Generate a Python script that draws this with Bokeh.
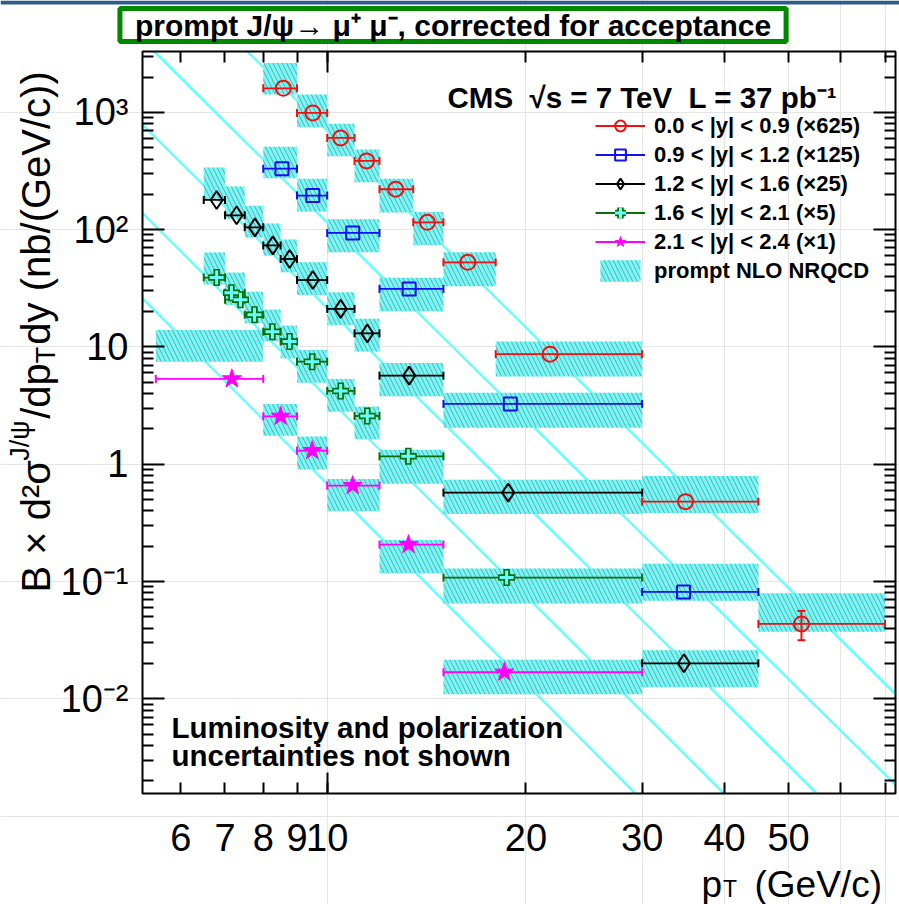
import math
from bokeh.plotting import figure
from bokeh.models import (FixedTicker, LogAxis, Label, Legend, LegendItem,
                          Range1d, NumeralTickFormatter, BoxAnnotation)
from bokeh.embed import file_html
from bokeh.resources import INLINE

# ---------------------------------------------------------------------------
# Prompt J/psi -> mu mu cross sections, B x d2sigma/dpT dy (nb/(GeV/c)),
# scaled per rapidity range.  *_lo/*_hi: pT bin edges, *_pt: bin-centre pT,
# *_xs: measured value, *_th_lo/*_th_hi: prompt NLO NRQCD band.
# ---------------------------------------------------------------------------
y09_lo = [8, 9, 10, 11, 12, 13.5, 15, 18, 30, 45]
y09_hi = [9, 10, 11, 12, 13.5, 15, 18, 30, 45, 70]
y09_pt = [8.58, 9.51, 10.48, 11.47, 12.70, 14.18, 16.33, 21.76, 34.9, 52.3]
y09_xs = [1602, 988, 605, 385, 221, 115.4, 52.6, 8.68, 0.48, 0.0435]
y09_th_lo = [1416, 745, 422, 253, 140, 74, 32.9, 5.6, 0.384, 0.0373]
y09_th_hi = [2637, 1416, 801, 481, 272, 141.6, 64, 11.1, 0.795, 0.0795]
# vertical error bar that is larger than its marker
y09_err_pt = [52.3]
y09_err_lo = [0.0316]
y09_err_hi = [0.0562]

y12_lo = [8, 9, 10, 12, 15, 30]
y12_hi = [9, 10, 12, 15, 30, 45]
y12_pt = [8.54, 9.51, 10.93, 13.31, 18.94, 34.66]
y12_xs = [331, 195, 93.8, 31.2, 3.27, 0.0815]
y12_th_lo = [274, 143, 64, 20.1, 2.05, 0.0687]
y12_th_hi = [510, 272, 122.5, 38.9, 4.06, 0.1415]

y16_lo = [6.5, 7, 7.5, 8, 8.5, 9, 10, 11, 12, 15, 30]
y16_hi = [7, 7.5, 8, 8.5, 9, 10, 11, 12, 15, 30, 45]
y16_pt = [6.80, 7.29, 7.77, 8.27, 8.77, 9.51, 10.48, 11.50, 13.31, 18.8, 34.7]
y16_xs = [179, 132.5, 104.6, 73.4, 56.2, 37.2, 21.1, 13.06, 5.69, 0.573, 0.0201]
y16_th_lo = [180, 124, 85.5, 60, 43.3, 27.7, 15.4, 9.12, 3.79, 0.376, 0.01253]
y16_th_hi = [338, 233, 160, 113, 82.2, 52.6, 29.2, 17.4, 7.3, 0.739, 0.0259]

y21_lo = [6.5, 7, 7, 7.5, 8, 8.5, 9, 10, 11, 12, 15]
y21_hi = [7, 7.5, 7.5, 8, 8.5, 9, 10, 11, 12, 15, 30]
y21_pt = [6.80, 7.16, 7.39, 7.76, 8.26, 8.77, 9.49, 10.48, 11.5, 13.27, 18.7]
y21_xs = [39.0, 29.0, 25.3, 18.8, 13.5, 11.1, 7.49, 4.22, 2.58, 1.168, 0.108]
y21_th_lo = [34, 22.9, 22.9, 15.9, 11.2, 8.0, 4.96, 2.81, 1.63, 0.683, 0.0649]
y21_th_hi = [63.7, 43, 43, 29.6, 20.8, 15.2, 9.43, 5.34, 3.1, 1.332, 0.129]

y24_lo = [5.5, 8, 9, 10, 12, 15]
y24_hi = [8, 9, 10, 12, 15, 30]
y24_pt = [7.17, 8.50, 9.49, 10.93, 13.28, 18.55]
y24_xs = [5.34, 2.56, 1.306, 0.657, 0.2064, 0.01686]
y24_th_lo = [7.49, 1.75, 0.90, 0.397, 0.1174, 0.01094]
y24_th_hi = [13.96, 3.27, 1.72, 0.749, 0.2263, 0.02153]

# straight power-law guide lines (cyan): where each one enters and leaves the frame
trend_y09_pt, trend_y09 = [7.57, 72.6], [3300, 0.0110]
trend_y12_pt, trend_y12 = [5.47, 72.6], [3300, 0.00185]
trend_y16_pt, trend_y16 = [5.25, 55.2], [785, 0.00156]
trend_y21_pt, trend_y21 = [5.25, 39.9], [139, 0.00156]
trend_y24_pt, trend_y24 = [5.25, 29.3], [26.0, 0.00156]

legend_labels = ["0.0 < |y| < 0.9 (\u00d7625)",
                 "0.9 < |y| < 1.2 (\u00d7125)",
                 "1.2 < |y| < 1.6 (\u00d725)",
                 "1.6 < |y| < 2.1 (\u00d75)",
                 "2.1 < |y| < 2.4 (\u00d71)",
                 "prompt NLO NRQCD"]

x_ticks = [6, 7, 8, 9, 10, 20, 30, 40, 50]
x_minor = [60, 70]
y_ticks = [1e-2, 1e-1, 1.0, 10.0, 100.0, 1000.0]
y_tick_text = ["10\u207b\u00b2", "10\u207b\u00b9", "1", "10", "10\u00b2", "10\u00b3"]

# ---------------------------------------------------------------------------
# Page geometry.  The plot box sits at FL..FR x FT..FB on the page; the Bokeh
# frame covers the whole canvas so that texts around the box are not clipped,
# and the axes are pinned to the box edges with fixed_location.
W, H = 899, 904
FL, FR, FT, FB = 142, 895, 51, 793
X_MIN, X_MAX = 5.25, 72.6
Y_MIN, Y_MAX = 1.56e-3, 3.3e3
KX = math.log10(X_MAX / X_MIN) / (FR - FL)     # decades per pixel
KY = math.log10(Y_MAX / Y_MIN) / (FB - FT)
CX0, CX1 = X_MIN / 10 ** (FL * KX), X_MAX * 10 ** ((W - FR) * KX)
CY0, CY1 = Y_MIN / 10 ** ((H - FB) * KY), Y_MAX * 10 ** (FT * KY)

FONT = "Liberation Sans"
CYAN = "#66ffff"

p = figure(width=W, height=H, x_axis_type="log", y_axis_type="log",
           x_axis_location=None, y_axis_location=None,
           x_range=Range1d(CX0, CX1), y_range=Range1d(CY0, CY1),
           output_backend="svg", toolbar_location=None, min_border=0)
p.outline_line_color = None
p.background_fill_color = "white"
p.border_fill_color = "white"

xticker = FixedTicker(ticks=x_ticks, minor_ticks=x_minor)
y_minor = [m * 10.0 ** k for k in range(-3, 4) for m in range(2, 10)
           if Y_MIN < m * 10.0 ** k < Y_MAX]
yticker = FixedTicker(ticks=y_ticks, minor_ticks=y_minor)


def box_axis(ticker, loc, major_in, minor_in, overrides=None, standoff=0):
    ax = LogAxis(ticker=ticker, fixed_location=loc)
    ax.axis_line_color = None
    ax.major_tick_in = major_in
    ax.major_tick_out = 0
    ax.minor_tick_in = minor_in
    ax.minor_tick_out = 0
    ax.major_tick_line_width = 2
    ax.minor_tick_line_width = 2
    ax.major_tick_line_color = "black"
    ax.minor_tick_line_color = "black"
    ax.major_label_text_font = FONT
    ax.major_label_text_font_size = "38px"
    ax.major_label_text_color = "black"
    ax.major_label_standoff = standoff
    if overrides is not None:
        ax.major_label_overrides = overrides
    return ax


xa = box_axis(xticker, Y_MIN, 11, 11, standoff=30)
xa.formatter = NumeralTickFormatter(format="0")
p.add_layout(xa, "below")
ya = box_axis(yticker, X_MIN, 22, 11, dict(zip(y_ticks, y_tick_text)), standoff=14)
p.add_layout(ya, "left")
# mirrored tick marks on the top and right edges, no numbers there
p.add_layout(box_axis(xticker, Y_MAX, 11, 11, {t: "" for t in x_ticks}), "above")
p.add_layout(box_axis(yticker, X_MAX, 22, 11, {t: "" for t in y_ticks}), "right")
# the 10 GeV/c tick is the long one on the horizontal edges
ten = FixedTicker(ticks=[10], minor_ticks=[])
p.add_layout(box_axis(ten, Y_MIN, 21, 0, {10: ""}), "below")
p.add_layout(box_axis(ten, Y_MAX, 21, 0, {10: ""}), "above")

# guide lines
for tx, ty in ((trend_y09_pt, trend_y09), (trend_y12_pt, trend_y12),
               (trend_y16_pt, trend_y16), (trend_y21_pt, trend_y21),
               (trend_y24_pt, trend_y24)):
    p.line(tx, ty, line_color=CYAN, line_width=2.5)

series = [
    dict(lo=y09_lo, hi=y09_hi, pt=y09_pt, xs=y09_xs, tlo=y09_th_lo, thi=y09_th_hi,
         color="#ee1111", marker="circle", size=15),
    dict(lo=y12_lo, hi=y12_hi, pt=y12_pt, xs=y12_xs, tlo=y12_th_lo, thi=y12_th_hi,
         color="#1111ee", marker="square", size=13),
    dict(lo=y16_lo, hi=y16_hi, pt=y16_pt, xs=y16_xs, tlo=y16_th_lo, thi=y16_th_hi,
         color="#000000", marker="diamond", size=18),
    dict(lo=y21_lo, hi=y21_hi, pt=y21_pt, xs=y21_xs, tlo=y21_th_lo, thi=y21_th_hi,
         color="#0a6e0a", marker="cross", size=17),
    dict(lo=y24_lo, hi=y24_hi, pt=y24_pt, xs=y24_xs, tlo=y24_th_lo, thi=y24_th_hi,
         color="#ff00ff", marker="star", size=20),
]

# theory bands
band_renderers = []
for s in series:
    r = p.quad(left=s["lo"], right=s["hi"], bottom=s["tlo"], top=s["thi"],
               fill_color=CYAN, line_color=None,
               hatch_pattern="left_diagonal_line", hatch_color="#a07c7c",
               hatch_weight=1, hatch_scale=9, hatch_alpha=0.85)
    band_renderers.append(r)

# data points with horizontal bin-width bars
legend_renderers = []
for s in series:
    c = s["color"]
    seg = p.segment(x0=s["lo"], x1=s["hi"], y0=s["xs"], y1=s["xs"],
                    line_color=c, line_width=1.8)
    p.scatter(x=s["lo"] + s["hi"], y=s["xs"] + s["xs"], marker="dash",
              angle=math.pi / 2, size=8, line_color=c, line_width=2)
    if s["marker"] == "cross":
        m1 = p.scatter(x=s["pt"], y=s["xs"], marker="cross", size=s["size"],
                       line_color=c, line_width=6.5)
        m2 = p.scatter(x=s["pt"], y=s["xs"], marker="cross", size=s["size"] - 3,
                       line_color=CYAN, line_width=3)
        legend_renderers.append([seg, m1, m2])
    elif s["marker"] == "star":
        m1 = p.scatter(x=s["pt"], y=s["xs"], marker="star", size=s["size"],
                       line_color=c, fill_color=c, line_width=1)
        legend_renderers.append([seg, m1])
    else:
        m1 = p.scatter(x=s["pt"], y=s["xs"], marker=s["marker"], size=s["size"],
                       line_color=c, fill_color=None, line_width=2)
        legend_renderers.append([seg, m1])

# vertical error bar of the last |y|<0.9 point
p.segment(x0=y09_err_pt, x1=y09_err_pt, y0=y09_err_lo, y1=y09_err_hi,
          line_color="#ee1111", line_width=2)
p.scatter(x=y09_err_pt + y09_err_pt, y=y09_err_lo + y09_err_hi, marker="dash",
          size=8, line_color="#ee1111", line_width=2)

# plot box
p.quad(left=[X_MIN], right=[X_MAX], bottom=[Y_MIN], top=[Y_MAX],
       fill_color=None, line_color="black", line_width=2)

items = [LegendItem(label=t, renderers=r) for t, r in zip(legend_labels[:5], legend_renderers)]
items.append(LegendItem(label=legend_labels[5], renderers=[band_renderers[0]]))
legend = Legend(items=items, location=(595, 620),
                label_text_font=FONT, label_text_font_style="bold",
                label_text_font_size="22px", label_text_color="black",
                glyph_width=50, glyph_height=27, label_height=27,
                spacing=2, padding=0, margin=0, label_standoff=9,
                border_line_color=None, background_fill_alpha=0)
p.add_layout(legend)


# ---------------------------------------------------------------------------
# page texts, positioned in page pixels (origin top-left)
def page_label(text, px, py, size, bold=False, align="left",
               baseline="alphabetic", angle=0.0, **kw):
    return Label(x=px, y=H - py, x_units="screen", y_units="screen",
                 text=text, text_font=FONT, text_font_size=f"{size}px",
                 text_font_style="bold" if bold else "normal",
                 text_color="black", text_align=align, text_baseline=baseline,
                 angle=angle, **kw)


# Liberation Sans advance widths (em) for the characters used in the titles
CW = {"B": .667, " ": .278, "\u00d7": .584, "d": .556, "\u00b2": .333, "\u03c3": .6,
      "J": .5, "/": .278, "\u03c8": .7, "p": .556, "T": .611, "y": .5, "(": .333,
      "n": .556, "b": .556, "G": .778, "e": .556, "V": .667, "c": .5, ")": .333}


def tw(s, size):
    return sum(CW.get(ch, .556) for ch in s) * size


# header band
p.add_layout(BoxAnnotation(left=0, right=W, bottom=H - 4, top=H,
                           left_units="screen", right_units="screen",
                           bottom_units="screen", top_units="screen",
                           fill_color="#2b5d8c", fill_alpha=1, line_color=None))

# boxed title (en spaces widen the frame around the text)
title_txt = "\u2002prompt J/\u03c8\u2192 \u03bc\u207a \u03bc\u207b, corrected for acceptance\u2002"
p.add_layout(page_label(title_txt, 456, 28, 30, bold=True, align="center",
                        baseline="middle", text_alpha=0,
                        background_fill_color="#a0a0a0", padding=0))
p.add_layout(page_label(title_txt, 452.5, 24.5, 30, bold=True, align="center",
                        baseline="middle", background_fill_color="white",
                        border_line_color="#008800", border_line_width=5,
                        padding=0))

# experiment tag
p.add_layout(page_label("CMS\u00a0\u00a0\u221as = 7 TeV\u00a0\u00a0L = 37 pb\u207b\u00b9",
                        447, 97, 29.5, bold=True))

# note in the lower left
p.add_layout(page_label("Luminosity and polarization", 171, 727, 29.5, bold=True))
p.add_layout(page_label("uncertainties not shown", 171, 755, 29.5, bold=True))

# x-axis title: p_T (GeV/c), right-aligned to the box
XT = 37
p.add_layout(page_label("p", 701, 884, XT))
p.add_layout(page_label("T", 701 + tw("p", XT) + 1, 888, 23))
p.add_layout(page_label("(GeV/c)", 754, 884, XT))

# y-axis title: B x d2sigma^{J/psi}/dp_T dy (nb/(GeV/c)), reading upwards
YT = 40
base_x, y0 = 35, 592
pieces = [("B \u00d7 d\u00b2\u03c3", YT, 0), ("J/\u03c8", 27, -16),
          ("/dp", YT, 0), ("T", 27, 10), ("dy (nb/(GeV/c))", YT, 0)]
pos = y0
for txt, sz, shift in pieces:
    p.add_layout(page_label(txt, base_x + shift, pos, sz, angle=math.pi / 2))
    pos -= tw(txt, sz) + (2 if sz < YT else 0)

open("out.html", "w").write(file_html(p, INLINE))
